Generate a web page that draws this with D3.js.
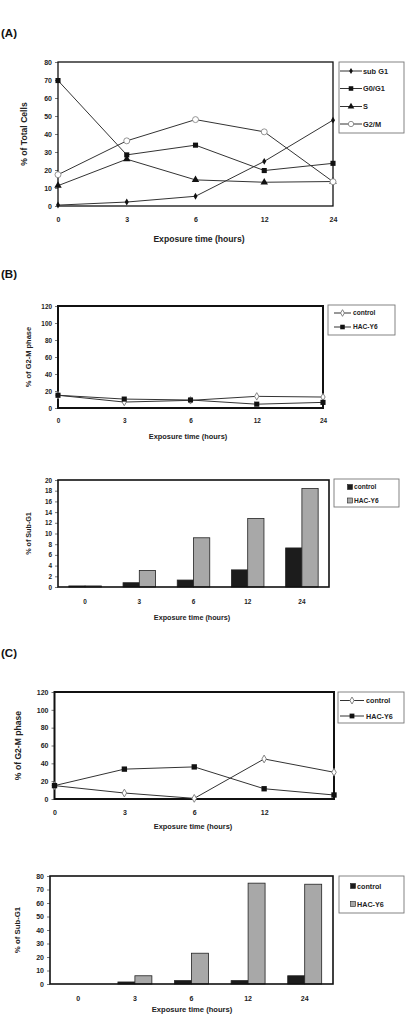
<!DOCTYPE html>
<html><head><meta charset="utf-8">
<script src="https://cdn.jsdelivr.net/npm/d3@7/dist/d3.min.js"></script>
<style>
html,body{margin:0;padding:0;background:#fff;}
svg text{font-family:"Liberation Sans",Arial,sans-serif;font-weight:bold;fill:#222;}
</style></head>
<body>
<svg id="c" width="407" height="1016"></svg>
<script>
// ---------- DATA ----------
const categories = ["0","3","6","12","24"];

// Panel A: cell-cycle distribution
const aSeriesNames = ["sub G1","G0/G1","S","G2/M"];
const aSubG1 = [0.5, 2.2, 5.4, 24.8, 47.7];
const aG0G1  = [69.7, 28.4, 33.8, 19.7, 23.7];
const aS     = [11.3, 26.0, 14.5, 13.2, 13.6];
const aG2M   = [17.4, 36.2, 48.0, 41.2, 13.5];
const aYTicks = [0,10,20,30,40,50,60,70,80];

// Panel B: G2-M line
const bLineNames = ["control","HAC-Y6"];
const bLineControl = [15, 7, 9, 13.7, 12.9];
const bLineHAC     = [15, 10.5, 9.4, 4.5, 6.6];
const lineYTicks = [0,20,40,60,80,100,120];

// Panel B: Sub-G1 bars
const barNames = ["control","HAC-Y6"];
const bBarControl = [0.2, 0.8, 1.3, 3.2, 7.3];
const bBarHAC     = [0.2, 3.1, 9.2, 12.8, 18.4];
const bBarYTicks = [0,2,4,6,8,10,12,14,16,18,20];

// Panel C: G2-M line
const cLineControl = [15, 6.7, 0.7, 44.9, 30];
const cLineHAC     = [15, 33.5, 36, 11.5, 4.5];
const cLineTickLabels = ["0","3","6","12",""];

// Panel C: Sub-G1 bars
const cBarControl = [0, 1.5, 2.5, 2.5, 6.1];
const cBarHAC     = [0, 6.1, 22.8, 74.7, 73.9];
const cBarYTicks = [0,10,20,30,40,50,60,70,80];

const xTitle = "Exposure time (hours)";

// ---------- DRAW ----------
const svg = d3.select("#c");
const LINE = "#333";

function marker(g, type, x, y, s){
  const sym = {diamond:d3.symbolDiamond, square:d3.symbolSquare, triangle:d3.symbolTriangle, circle:d3.symbolCircle, odiamond:d3.symbolDiamond}[type];
  const size = {diamond:14, square:26, triangle:24, circle:28, odiamond:16}[type]*(s||1);
  const p = g.append("path").attr("d", d3.symbol().type(sym).size(size)()).attr("transform",`translate(${x},${y})`);
  if(type==="circle"){ p.attr("fill","#fff").attr("stroke","#888").attr("stroke-width",0.9); }
  else if(type==="odiamond"){ p.attr("fill","#fff").attr("stroke","#777").attr("stroke-width",0.9); }
  else { p.attr("fill","#111"); }
  return p;
}

function panelLabel(txt, y){
  svg.append("text").attr("x",1).attr("y",y).attr("font-size",11.5).style("fill","#111").text(txt);
}

function frameAndAxes(g, L, y, x, yTicks, xLabels, yTitle){
  const ya = g.append("g").attr("transform",`translate(${L.x0},0)`)
    .call(d3.axisLeft(y).tickValues(yTicks).tickSize(L.tick||3).tickPadding(L.tp||3));
  ya.select(".domain").remove();
  ya.selectAll("line").attr("stroke","#555").attr("stroke-width",0.8);
  ya.selectAll("text").attr("font-size",L.fs||6.8).attr("font-family",null).style("fill","#222");
  const xa = g.append("g").attr("transform",`translate(0,${L.y1})`)
    .call(d3.axisBottom(x).tickSize(0).tickPadding(L.xp||11).tickFormat((d,i)=>xLabels[i]));
  xa.select(".domain").remove();
  xa.selectAll("text").attr("font-size",L.fs||6.8).attr("font-family",null).style("fill","#222");
  g.append("rect").attr("x",L.x0).attr("y",L.y0).attr("width",L.x1-L.x0).attr("height",L.y1-L.y0)
    .attr("fill","none").attr("stroke","#111").attr("stroke-width",L.fw||1.4);
  g.append("text").attr("x",L.tx).attr("y",L.ty).attr("text-anchor","middle").attr("font-size",L.tfs||7.8).text(xTitle);
  g.append("text").attr("transform",`translate(${L.yx},${(L.y0+L.y1)/2}) rotate(-90)`)
    .attr("text-anchor","middle").attr("font-size",L.yfs||7.8).text(yTitle);
}

function linePanel(L, series, yTicks, xLabels, yTitle){
  const g = svg.append("g");
  const x = d3.scalePoint().domain(categories).range([L.x0, L.x1]).padding(0);
  const y = d3.scaleLinear().domain([0, yTicks[yTicks.length-1]]).range([L.y1, L.y0]);
  frameAndAxes(g, L, y, x, yTicks, xLabels, yTitle);
  const line = d3.line().x((d,i)=>x(categories[i])).y(d=>y(d));
  series.forEach(s=>{
    g.append("path").datum(s.values).attr("d",line).attr("fill","none").attr("stroke",LINE).attr("stroke-width",1);
  });
  series.forEach(s=>{
    s.values.forEach((v,i)=>marker(g, s.m, x(categories[i]), y(v), L.ms));
  });
  const lg = L.lg;
  g.append("rect").attr("x",lg.x0).attr("y",lg.y0).attr("width",lg.x1-lg.x0).attr("height",lg.y1-lg.y0)
    .attr("fill","#fff").attr("stroke","#777").attr("stroke-width",0.9);
  series.forEach((s,i)=>{
    const yy = lg.ys[i];
    g.append("line").attr("x1",lg.lx0).attr("x2",lg.lx1).attr("y1",yy).attr("y2",yy).attr("stroke",LINE).attr("stroke-width",1);
    marker(g, s.m, (lg.lx0+lg.lx1)/2, yy, L.ms*0.8);
    g.append("text").attr("x",lg.tx).attr("y",yy).attr("dy","0.35em").attr("font-size",lg.fs).text(s.name);
  });
}

function barPanel(L, ctrl, hac, yTicks, yTitle){
  const g = svg.append("g");
  const x = d3.scaleBand().domain(categories).range([L.x0, L.x1]).paddingInner(0.4).paddingOuter(0.2);
  const xs = d3.scaleBand().domain(barNames).range([0, x.bandwidth()]);
  const y = d3.scaleLinear().domain([0, yTicks[yTicks.length-1]]).range([L.y1, L.y0]);
  const fills = ["#1c1c1c","#a8a8a8"];
  [ctrl, hac].forEach((vals, k)=>{
    g.selectAll(null).data(vals).enter().append("rect")
      .attr("x",(d,i)=>x(categories[i])+xs(barNames[k]))
      .attr("y",d=>y(d)).attr("width",xs.bandwidth()).attr("height",d=>L.y1-y(d))
      .attr("fill",fills[k]).attr("stroke","#222").attr("stroke-width",0.8);
  });
  frameAndAxes(g, L, y, x, yTicks, categories, yTitle);
  const lg = L.lg;
  g.append("rect").attr("x",lg.x0).attr("y",lg.y0).attr("width",lg.x1-lg.x0).attr("height",lg.y1-lg.y0)
    .attr("fill","#fff").attr("stroke","#777").attr("stroke-width",0.9);
  barNames.forEach((n,i)=>{
    const yy = lg.ys[i];
    g.append("rect").attr("x",lg.sx-2.5).attr("y",yy-2.5).attr("width",5).attr("height",5)
      .attr("fill",fills[i]).attr("stroke","#222").attr("stroke-width",0.6);
    g.append("text").attr("x",lg.tx).attr("y",yy).attr("dy","0.35em").attr("font-size",lg.fs).text(n);
  });
}

// Panel A
panelLabel("(A)", 37);
linePanel({x0:58, x1:333, y0:62, y1:206, tx:199, ty:242, yx:27, fw:1.3, ms:1, fs:7, tfs:8.6, yfs:8.6,
  lg:{x0:339, x1:404, y0:62, y1:133, ys:[71,88.5,106.5,124], lx0:340, lx1:362, tx:363, fs:7.4}},
  [{name:aSeriesNames[0], values:aSubG1, m:"diamond"},
   {name:aSeriesNames[1], values:aG0G1, m:"square"},
   {name:aSeriesNames[2], values:aS, m:"triangle"},
   {name:aSeriesNames[3], values:aG2M, m:"circle"}],
  aYTicks, categories, "% of Total Cells");

// Panel B line
panelLabel("(B)", 278);
linePanel({x0:58, x1:323, y0:306, y1:408, tx:188, ty:439, yx:31, fw:2, ms:1, fs:6.4, tfs:7.4, yfs:7.5, xp:10,
  lg:{x0:328, x1:395, y0:305, y1:335, ys:[313,327], lx0:334, lx1:351, tx:353, fs:6.6}},
  [{name:bLineNames[0], values:bLineControl, m:"odiamond"},
   {name:bLineNames[1], values:bLineHAC, m:"square"}],
  lineYTicks, categories, "% of G2-M phase");

// Panel B bars
barPanel({x0:58, x1:329, y0:480, y1:587, tx:192, ty:620, yx:31, fw:1.6, fs:6.4, tfs:7.2, yfs:7.2, xp:12,
  lg:{x0:334, x1:399, y0:479, y1:507, ys:[487,500.5], sx:350, tx:354, fs:6.6}},
  bBarControl, bBarHAC, bBarYTicks, "% of Sub-G1");

// Panel C line
panelLabel("(C)", 657);
linePanel({x0:54.5, x1:334, y0:692, y1:799, tx:193, ty:829, yx:21, fw:2, ms:1.1, fs:7, tfs:7.4, yfs:8.6, xp:11,
  lg:{x0:338, x1:404, y0:692, y1:723, ys:[700.5,716], lx0:340, lx1:364, tx:366, fs:7.2}},
  [{name:bLineNames[0], values:cLineControl, m:"odiamond"},
   {name:bLineNames[1], values:cLineHAC, m:"square"}],
  lineYTicks, cLineTickLabels, "% of G2-M phase");

// Panel C bars
barPanel({x0:50, x1:333, y0:876, y1:984, tx:192, ty:1012, yx:20, fw:1.6, fs:7, tfs:7.6, yfs:7.8, xp:12,
  lg:{x0:339, x1:404, y0:876, y1:913, ys:[886,904], sx:353, tx:357, fs:7.2}},
  cBarControl, cBarHAC, cBarYTicks, "% of Sub-G1");
</script>
</body></html>
